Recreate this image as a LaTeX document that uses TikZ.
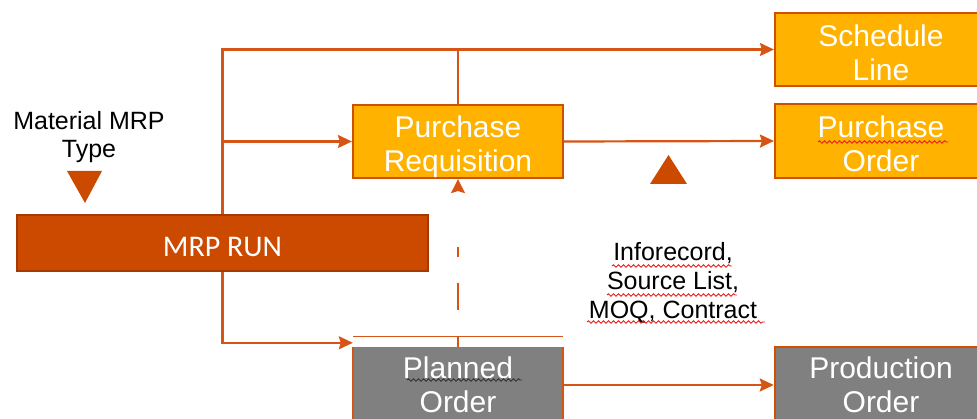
\documentclass[tikz,border=0pt]{standalone}
\usepackage{fontspec}
\setmainfont{Liberation Sans}
\newfontfamily\calibfont{Carlito}
\usetikzlibrary{arrows.meta,decorations.pathmorphing}

\definecolor{linkorange}{RGB}{214,84,20}
\definecolor{boxedge}{RGB}{208,80,0}
\definecolor{boxfill}{RGB}{255,178,0}
\definecolor{runfill}{RGB}{204,74,0}
\definecolor{runedge}{RGB}{165,58,0}
\definecolor{ordergrey}{RGB}{128,128,128}
\definecolor{spellred}{RGB}{230,30,30}

\tikzset{
  link/.style={draw=linkorange, line width=2.2pt},
  arrowlink/.style={link, -{Stealth[length=14pt,width=13pt,inset=2pt]}},
  orangebox/.style={draw=boxedge, line width=2.2pt, fill=boxfill, inner sep=0pt},
  boxtext/.style={text=white, align=center, font=\fontsize{30}{34}\selectfont, inner sep=0pt},
  greybox/.style={fill=ordergrey, text=white, align=center,
    font=\fontsize{30}{34}\selectfont, inner sep=0pt},
  runbox/.style={draw=runedge, line width=1.5pt, fill=runfill, inner sep=0pt},
  plaintext/.style={text=black, align=center, inner sep=0pt},
  marker/.style={fill=runfill, draw=none},
  squiggle/.style={draw=spellred, line width=0.9pt,
    decorate, decoration={snake, segment length=5pt, amplitude=1.2pt}},
}

\begin{document}
\begin{tikzpicture}[x=1pt,y=-1pt]
\useasboundingbox (0,0) rectangle (977,419);

% main boxes
\node[runbox, minimum width=411pt, minimum height=56pt] (run) at (222.5,243) {};
\node[boxtext, font=\calibfont\fontsize{30}{34}\selectfont] (runtext) at ([yshift=-4pt]run.center) {MRP RUN};

\node[orangebox, minimum width=210pt, minimum height=73pt] (preq) at (458,141.5) {};
\node[boxtext] (preqtext) at ([yshift=-5pt]preq.center) {Purchase\\Requisition};

\node[orangebox, minimum width=212pt, minimum height=73pt] (sched) at (881,49.5) {};
\node[boxtext] (schedtext) at ([yshift=-3pt]sched.center) {Schedule\\Line};

\node[orangebox, minimum width=212pt, minimum height=74pt] (pord) at (881,141) {};
\node[boxtext] (pordtext) at ([yshift=-3pt]pord.center) {Purchase\\Order};

\node[greybox, minimum width=210pt, minimum height=76pt] (plan) at (458,385) {Planned\\Order};
\node[greybox, draw=boxedge, line width=2.5pt, minimum width=212pt, minimum height=76pt] (prod) at (881,385) {Production\\Order};

% orange side edges of the planned order box
\draw[link] (plan.north west) -- (plan.south west);
\draw[link] (plan.north east) -- (plan.south east);

% free-standing labels
\node[plaintext, font=\fontsize{25}{28}\selectfont] (mtype) at (89,137) {Material MRP\\Type};
\node[plaintext, font=\fontsize{25}{29}\selectfont] (sources) at (673,283) {Inforecord,\\Source List,\\MOQ, Contract};

% markers
\fill[marker] (67,171) -- (102,171) -- (85,203) -- cycle;
\fill[marker] (650,184) -- (687,184) -- (668.5,155) -- cycle;

% connectors
\coordinate (planin) at ([yshift=4pt]plan.north west);
\coordinate (barl) at ([yshift=10pt]plan.north west);
\coordinate (barr) at ([yshift=10pt]plan.north east);
\coordinate (barm) at ([yshift=10pt]plan.north);

\draw[arrowlink] (run.north) |- (sched.west);
\draw[link] (preq.north) -- (preq.north |- sched.west);
\draw[arrowlink] (run.north |- preq.west) -- (preq.west);
\draw[arrowlink] (preq.east) -- (pord.west);
\draw[arrowlink] (run.south) |- (planin);
\draw[arrowlink] (plan.east) -- (prod.west);

\draw[draw=linkorange, line width=1.4pt] (barl) -- (barr);
\draw[draw=linkorange, line width=1.4pt] (plan.north) -- (barm);
\draw[draw=linkorange, line width=1.4pt,
  dash pattern=on 0pt off 27pt on 27pt off 26pt on 10pt off 60pt,
  -{Stealth[length=14pt,width=14pt,inset=2pt]}] (barm) -- (preq.south);

% spell-check underlines
\draw[squiggle] (612,266) -- (732,266);
\draw[squiggle] (607,295) -- (737,295);
\draw[squiggle] (587,322) -- (765,322);
\draw[squiggle] (818,142) -- (948,142);
\draw[squiggle, draw=black!80] (407,380) -- (522,380);
\end{tikzpicture}
\end{document}
